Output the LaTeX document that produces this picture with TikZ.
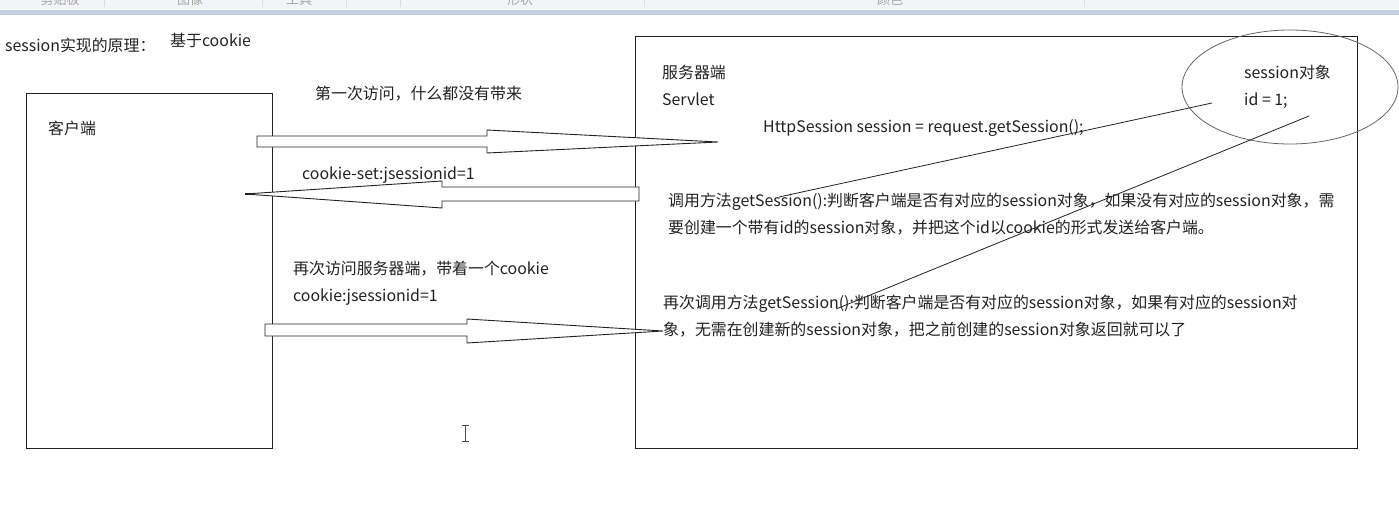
\documentclass[tikz,border=0pt]{standalone}
\usepackage{fontspec}
\setmainfont{Noto Sans CJK SC}
\usetikzlibrary{positioning}
\definecolor{bandgray}{HTML}{F3F4F6}
\definecolor{bandblue}{HTML}{C6CFDD}
\definecolor{sepgray}{HTML}{DADDE2}
\definecolor{inkgray}{HTML}{222222}
\tikzset{
  txt/.style={anchor=west, inner sep=0pt, text height=1.06em, text depth=0em,
    font=\fontsize{15.9}{27}\selectfont, text=inkgray},
  box/.style={draw=inkgray, line width=0.9pt},
  blk/.style={draw=inkgray, line width=0.9pt, fill=white},
  link/.style={draw=inkgray, line width=0.8pt},
}

\begin{document}
\begin{tikzpicture}[x=1pt, y=-1pt]
		\useasboundingbox (0,0) rectangle (1399,532);
		\fill [white] (0,0) rectangle (1399,532);
		% ribbon strip
		\fill [bandgray] (0,0) rectangle (1399,9);
		\fill [bandblue] (0,10) rectangle (1399,15);
		\foreach \sx in {104,262,346,400,644,1084}
			\draw [sepgray, line width=0.8pt] (\sx,0) -- (\sx,7);
		\begin{scope}
			\clip (0,0) rectangle (1399,8);
			\foreach \lx/\lt in {60/剪贴板,190/图像,299/工具,520/形状,890/颜色}
				\node [font=\fontsize{13}{13}\selectfont, text=gray!70, inner sep=0pt, anchor=base] at (\lx,5) {\lt};
		\end{scope}
		% title
		\node [txt] (title) at (5,46) {session实现的原理：};
		\node [txt] (basis) at (170,41) {基于cookie};
		% client
		\draw [box] (26,93) rectangle (272,448);
		\node [txt] (client) at (48,129) {客户端};
		% server
		\draw [box] (635,36) rectangle (1357,448);
		\node [txt] (server) at (662,73) {服务器端};
		\node [txt] (servlet) at (662,100) {Servlet};
		\node [txt] (getcall) at (763,127) {HttpSession session = request.getSession();};
		% session object
		\draw [draw=gray!80!black, line width=0.8pt] (1290,87) ellipse [x radius=108, y radius=57];
		\node [txt] (obj) at (1244,73) {session对象};
		\node [txt] (objid) at (1244,100) {id = 1;};
		% request arrows
		\node [txt] (first) at (315,94) {第一次访问，什么都没有带来};
		\draw [blk] (257,136) -- (487,136) -- (487,130) -- (718,142) -- (487,153) -- (487,147) -- (257,147) -- cycle;
		\node [txt] (setck) at (302,174) {cookie-set:jsessionid=1};
		\draw [blk] (639,187) -- (442,187) -- (442,181) -- (245,194) -- (442,208) -- (442,201) -- (639,201) -- cycle;
		\draw [inkgray, line width=1.2pt] (245,194) -- (251,194);
		\node [txt] (again) at (293,269) {再次访问服务器端，带着一个cookie};
		\node [txt] (sendck) at (293,296) {cookie:jsessionid=1};
		\draw [blk] (265,324) -- (467,324) -- (467,319) -- (663,331) -- (467,343) -- (467,336) -- (265,336) -- cycle;
		% explanations
		\node [txt] (firstA) at (668,201) {调用方法getSession():判断客户端是否有对应的session对象，如果没有对应的session对象，需};
		\node [txt] (firstB) at (668,228) {要创建一个带有id的session对象，并把这个id以cookie的形式发送给客户端。};
		\node [txt] (againA) at (663,303) {再次调用方法getSession():判断客户端是否有对应的session对象，如果有对应的session对};
		\node [txt] (againB) at (663,330) {象，无需在创建新的session对象，把之前创建的session对象返回就可以了};
		% links
		\coordinate (objin1) at (1212,103);
		\coordinate (objin2) at (1309,116);
		\draw [link] (objin1) -- (779,197);
		\draw [link] (objin2) -- (836,309);
		% text cursor
		\draw [gray!60!black, line width=1.2pt] (465.5,425) -- (465.5,441);
		\draw [gray!60!black, line width=1pt] (462,425) -- (469,425) (462,441) -- (469,441);
	\end{tikzpicture}
\end{document}
